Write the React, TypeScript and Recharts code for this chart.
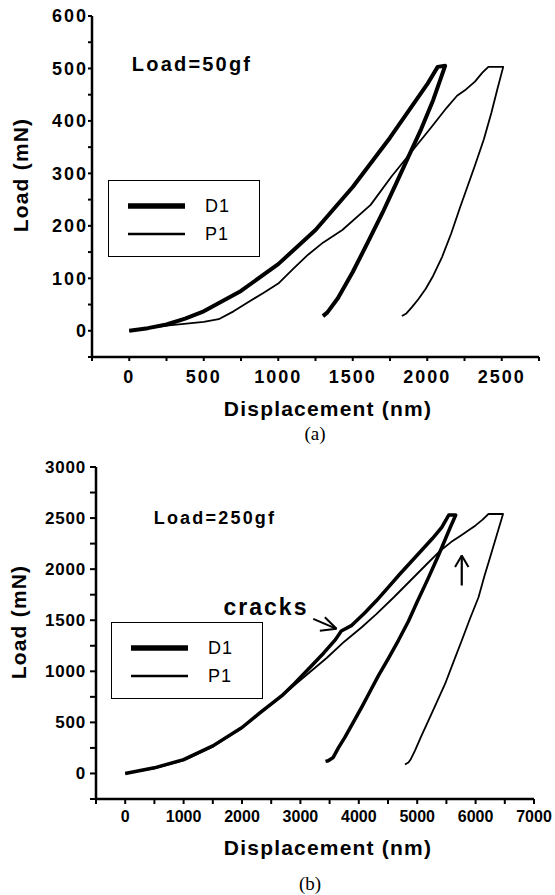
import { LineChart, Line, XAxis, YAxis, Legend, ReferenceLine } from "recharts";

// (a) Load = 50 gf
const dispA_D1 = [0, 125, 250, 375, 500, 750, 1000, 1250, 1500, 1750, 2000, 2070, 2120, 2040, 1960, 1874, 1790, 1700, 1600, 1500, 1400, 1330, 1300];
const loadA_D1 = [0, 5, 12, 23, 37, 76, 127, 192, 274, 368, 470, 503, 505, 440, 385, 332, 280, 225, 168, 112, 62, 35, 28];
const dispA_P1 = [0, 250, 500, 600, 700, 800, 900, 1000, 1100, 1200, 1300, 1430, 1620, 1760, 1874, 2030, 2130, 2200, 2260, 2320, 2370, 2410, 2510, 2470, 2430, 2380, 2320, 2270, 2220, 2160, 2100, 2040, 1990, 1940, 1900, 1860, 1830];
const loadA_P1 = [0, 10, 17, 22, 37, 55, 72, 90, 118, 145, 168, 192, 240, 294, 334, 389, 425, 448, 460, 475, 492, 503, 503, 460, 415, 365, 315, 275, 235, 185, 141, 105, 80, 60, 46, 33, 28];

// (b) Load = 250 gf
const dispB_D1 = [0, 500, 1000, 1500, 2000, 2300, 2700, 2900, 3200, 3400, 3600, 3700, 3880, 4100, 4300, 4500, 4700, 4900, 5100, 5260, 5420, 5540, 5660, 5560, 5363, 5180, 5000, 4850, 4677, 4500, 4334, 4190, 4048, 3900, 3761, 3650, 3562, 3476, 3430];
const loadB_D1 = [0, 55, 135, 270, 450, 590, 770, 880, 1060, 1180, 1310, 1395, 1450, 1570, 1690, 1820, 1950, 2075, 2200, 2300, 2410, 2530, 2530, 2400, 2134, 1900, 1680, 1490, 1301, 1120, 955, 800, 647, 495, 353, 250, 157, 125, 118];
const dispB_P1 = [0, 500, 1000, 1500, 2000, 2300, 2700, 2900, 3200, 3450, 3750, 4050, 4300, 4600, 4800, 5000, 5200, 5400, 5580, 5750, 5880, 6000, 6120, 6220, 6470, 6360, 6250, 6150, 6050, 5900, 5763, 5620, 5477, 5330, 5192, 5070, 4962, 4890, 4849, 4790];
const loadB_P1 = [0, 50, 128, 262, 445, 585, 765, 865, 1010, 1130, 1290, 1431, 1560, 1725, 1840, 1955, 2070, 2183, 2265, 2330, 2380, 2428, 2485, 2540, 2540, 2330, 2120, 1930, 1725, 1510, 1301, 1090, 876, 690, 517, 365, 223, 140, 108, 88];

const xTicksA = [-250, 0, 250, 500, 750, 1000, 1250, 1500, 1750, 2000, 2250, 2500, 2750];
const yTicksA = [-50, 0, 50, 100, 150, 200, 250, 300, 350, 400, 450, 500, 550, 600];
const xTicksB = [-500, 0, 500, 1000, 1500, 2000, 2500, 3000, 3500, 4000, 4500, 5000, 5500, 6000, 6500, 7000];
const yTicksB = [-250, 0, 250, 500, 750, 1000, 1250, 1500, 1750, 2000, 2250, 2500, 2750, 3000];

const toPoints = (xs: number[], ys: number[]) => xs.map((x, i) => ({ x, y: ys[i] }));

const FONT = '"Liberation Sans", Arial, Helvetica, sans-serif';
const widths: Record<string, number> = { D1: 5, P1: 1.8 };

function LegendBox({ payload }: any) {
  return (
    <div
      style={{
        width: 152,
        height: 77,
        border: "1.5px solid #000",
        boxSizing: "border-box",
        background: "#fff",
        position: "relative",
        fontFamily: FONT,
      }}
    >
      {(payload || []).map((p: any, i: number) => (
        <div key={p.value} style={{ position: "absolute", left: 0, top: 25 + i * 28 - 12, height: 24, width: 150 }}>
          <svg width={80} height={24} style={{ position: "absolute", left: 0, top: 0 }}>
            <line x1={19} x2={76} y1={12} y2={12} stroke="#000" strokeWidth={widths[p.value] + 0.5} />
          </svg>
          <span style={{ position: "absolute", left: 96, top: 2, fontSize: 18, letterSpacing: 1, lineHeight: "20px" }}>
            {p.value}
          </span>
        </div>
      ))}
    </div>
  );
}

const fmt = (step: number) => (v: number) => (v % step === 0 ? String(v) : "");

function Title({ x, y, children, size = 21, rotate = false, serif = false, bold = true, spacing = 1.2 }: any) {
  return (
    <div
      style={{
        position: "absolute",
        left: x,
        top: y,
        transform: `translate(-50%, -50%)${rotate ? " rotate(-90deg)" : ""}`,
        fontFamily: serif ? '"Liberation Serif", "Times New Roman", serif' : FONT,
        fontWeight: bold ? 700 : 400,
        fontSize: size,
        letterSpacing: spacing,
        whiteSpace: "nowrap",
        lineHeight: 1,
      }}
    >
      {children}
    </div>
  );
}

export default function App() {
  const axisLine = { stroke: "#000", strokeWidth: 2.5 };
  const tickLine = { stroke: "#000", strokeWidth: 2 };
  return (
    <div style={{ position: "absolute", left: 0, top: 0, width: 555, height: 895, background: "#fff", fontFamily: FONT }}>
      <div style={{ position: "absolute", left: 0, top: 0 }}>
        <LineChart width={555} height={387} margin={{ top: 16, right: 16, left: 32, bottom: 0 }}>
          <XAxis
            type="number"
            dataKey="x"
            domain={[-250, 2750]}
            ticks={xTicksA}
            tickFormatter={fmt(500)}
            axisLine={axisLine}
            tickLine={tickLine}
            tickSize={4}
            tickMargin={9}
            height={30}
            interval={0}
            tick={{ fill: "#000", fontSize: 18, fontWeight: 700, fontFamily: FONT, letterSpacing: 2 }}
          />
          <YAxis
            type="number"
            dataKey="y"
            domain={[-50, 600]}
            ticks={yTicksA}
            tickFormatter={fmt(100)}
            axisLine={axisLine}
            tickLine={tickLine}
            tickSize={4}
            tickMargin={0}
            width={60}
            interval={0}
            tick={{ fill: "#000", fontSize: 18, fontWeight: 700, fontFamily: FONT, letterSpacing: 2 }}
          />
          <Legend
            layout="horizontal"
            verticalAlign="middle"
            align="center"
            content={<LegendBox />}
            wrapperStyle={{ left: 108, top: 180, width: 152, height: 77 }}
          />
          <Line name="D1" data={toPoints(dispA_D1, loadA_D1)} dataKey="y" type="linear" stroke="#000" strokeWidth={4} dot={false} isAnimationActive={false} strokeLinejoin="round" />
          <Line name="P1" data={toPoints(dispA_P1, loadA_P1)} dataKey="y" type="linear" stroke="#000" strokeWidth={1.8} dot={false} isAnimationActive={false} strokeLinejoin="round" />
        </LineChart>
      </div>
      <Title x={20} y={175} rotate>Load (mN)</Title>
      <Title x={328} y={408}>Displacement (nm)</Title>
      <Title x={192} y={64} size={20} spacing={2.2}>Load=50gf</Title>
      <Title x={315} y={433} size={19} serif bold={false} spacing={0}>(a)</Title>

      <div style={{ position: "absolute", left: 0, top: 450 }}>
        <LineChart width={555} height={379} margin={{ top: 17, right: 21, left: 36, bottom: 0 }}>
          <XAxis
            type="number"
            dataKey="x"
            domain={[-500, 7000]}
            ticks={xTicksB}
            tickFormatter={fmt(1000)}
            axisLine={axisLine}
            tickLine={tickLine}
            tickSize={5}
            tickMargin={7}
            height={30}
            interval={0}
            tick={{ fill: "#000", fontSize: 16, fontWeight: 700, fontFamily: FONT }}
          />
          <YAxis
            type="number"
            dataKey="y"
            domain={[-250, 3000]}
            ticks={yTicksB}
            tickFormatter={fmt(500)}
            axisLine={axisLine}
            tickLine={tickLine}
            tickSize={6}
            tickMargin={4}
            width={60}
            interval={0}
            tick={{ fill: "#000", fontSize: 17, fontWeight: 700, fontFamily: FONT, letterSpacing: 0.8 }}
          />
          <Legend
            layout="horizontal"
            verticalAlign="middle"
            align="center"
            content={<LegendBox />}
            wrapperStyle={{ left: 111, top: 172, width: 148, height: 75 }}
          />
          <Line name="D1" data={toPoints(dispB_D1, loadB_D1)} dataKey="y" type="linear" stroke="#000" strokeWidth={3.5} dot={false} isAnimationActive={false} strokeLinejoin="round" />
          <Line name="P1" data={toPoints(dispB_P1, loadB_P1)} dataKey="y" type="linear" stroke="#000" strokeWidth={1.8} dot={false} isAnimationActive={false} strokeLinejoin="round" />
          <ReferenceLine segment={[{ x: 3220, y: 1514 }, { x: 3619, y: 1416 }]} stroke="#000" strokeWidth={2} ifOverflow="visible" />
          <ReferenceLine segment={[{ x: 3419, y: 1529 }, { x: 3619, y: 1416 }]} stroke="#000" strokeWidth={2} ifOverflow="visible" />
          <ReferenceLine segment={[{ x: 3333, y: 1397 }, { x: 3619, y: 1416 }]} stroke="#000" strokeWidth={2} ifOverflow="visible" />
          <ReferenceLine segment={[{ x: 5763, y: 1840 }, { x: 5763, y: 2134 }]} stroke="#000" strokeWidth={2.2} ifOverflow="visible" />
          <ReferenceLine segment={[{ x: 5648, y: 2020 }, { x: 5763, y: 2134 }]} stroke="#000" strokeWidth={2} ifOverflow="visible" />
          <ReferenceLine segment={[{ x: 5878, y: 2020 }, { x: 5763, y: 2134 }]} stroke="#000" strokeWidth={2} ifOverflow="visible" />
        </LineChart>
      </div>
      <Title x={18} y={622} rotate>Load (mN)</Title>
      <Title x={328} y={847}>Displacement (nm)</Title>
      <Title x={215} y={518} size={18} spacing={2.2}>Load=250gf</Title>
      <Title x={266} y={607} size={23} spacing={2}>cracks</Title>
      <Title x={310} y={883} size={19} serif bold={false} spacing={0}>(b)</Title>
    </div>
  );
}
